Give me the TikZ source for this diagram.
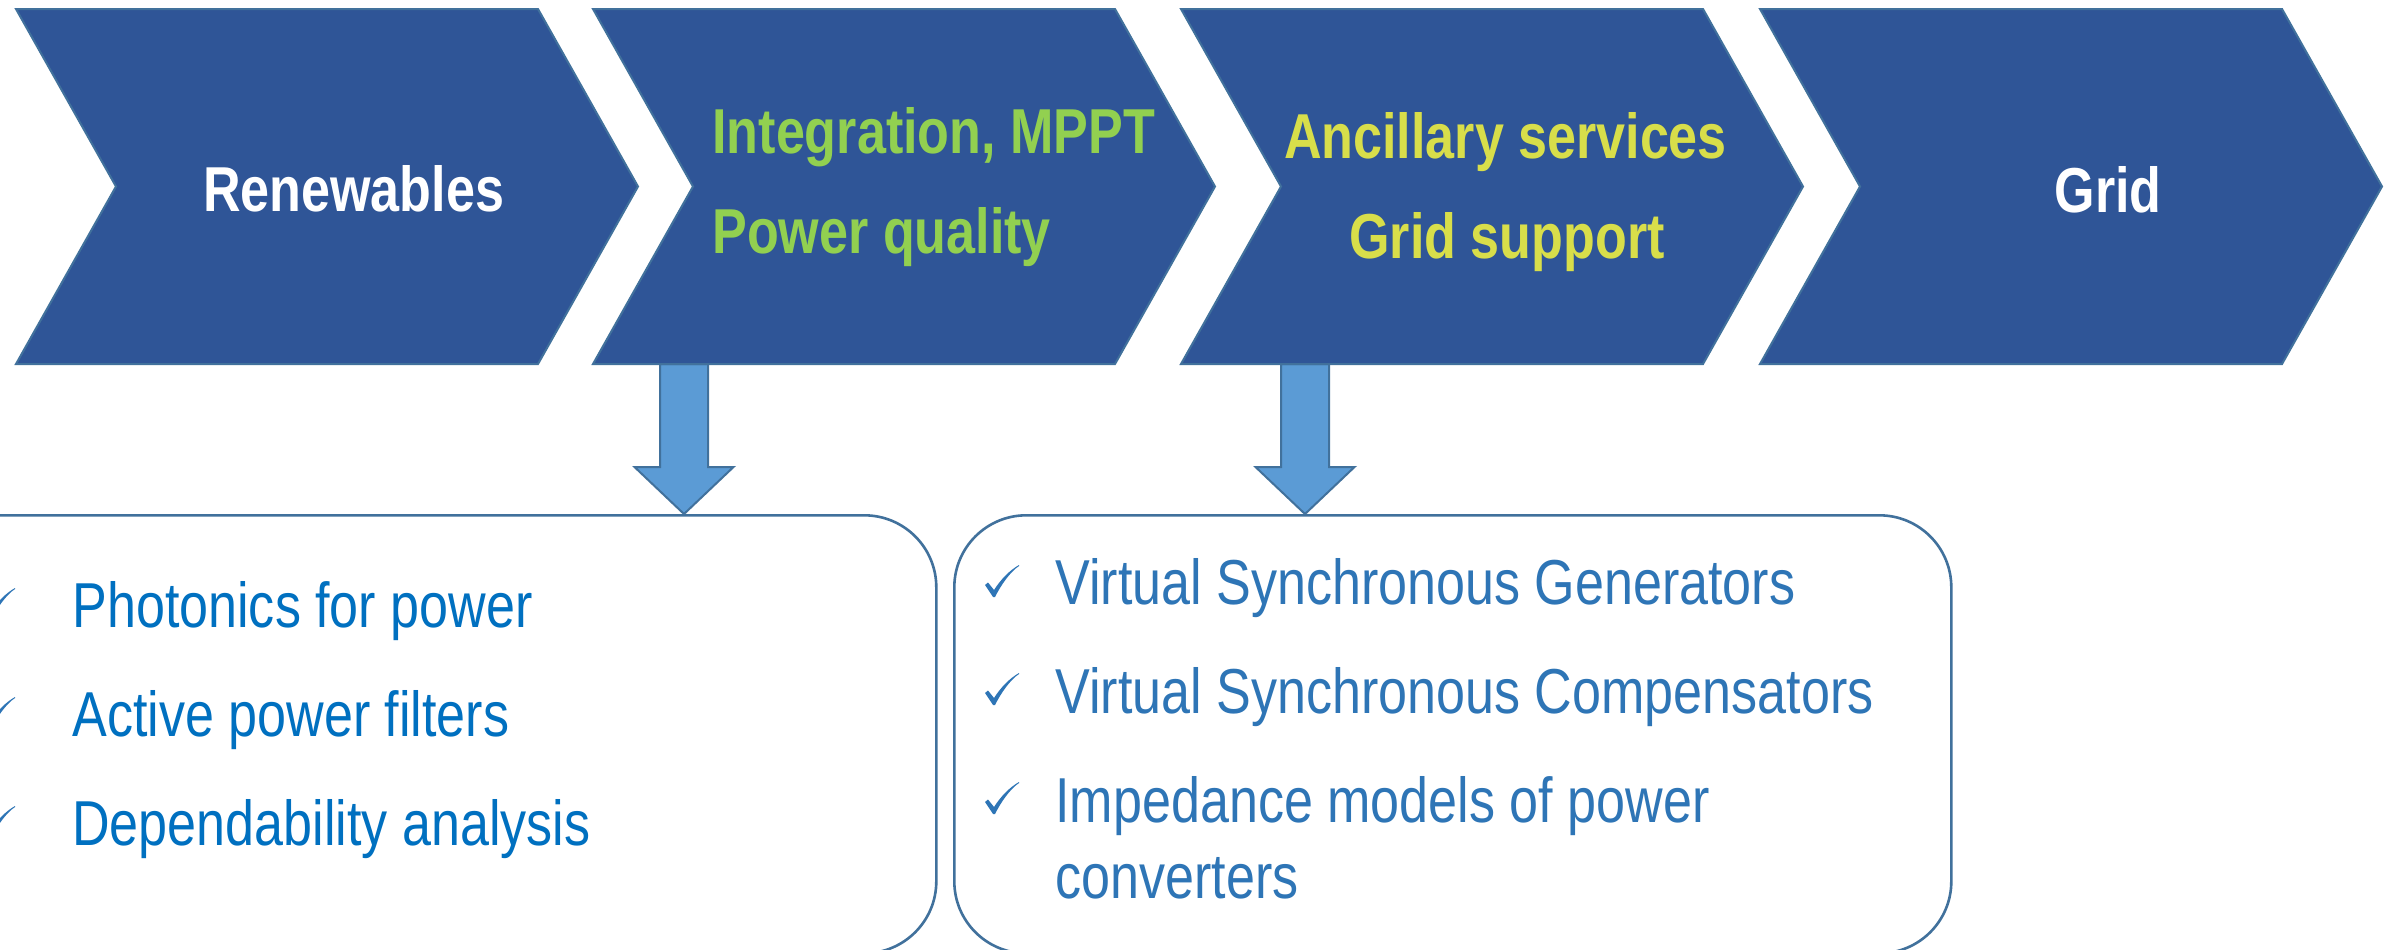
\documentclass[tikz,border=0pt]{standalone}
\usepackage{fontspec}
\newfontfamily\narrowsans[FakeStretch=0.82]{Liberation Sans}
\usetikzlibrary{calc}

\definecolor{chevfill}{HTML}{2F5597}
\definecolor{edgeblue}{HTML}{41719C}
\definecolor{arrfill}{HTML}{5B9BD5}
\definecolor{pqgreen}{HTML}{92D050}
\definecolor{ancyellow}{RGB}{216,222,74}
\definecolor{itemblue}{HTML}{0070C0}
\definecolor{itemblueb}{HTML}{2E75B6}

% chevron outline with its left edge at x = #1
\newcommand\chevronat[1]{(#1,9) -- ++(522,0) -- ++(100,177.5) -- ++(-100,177.5) -- ++(-522,0) -- ++(100,-177.5) -- cycle}
% wide block arrow from coordinate #1 (top of shaft) down to tip #2
\newcommand\blockarrow[2]{%
  \draw[barrow] ($(#1)+(-24,0)$) -- ($(#2)+(-24,-47)$) -- ($(#2)+(-49.5,-47)$)
    -- (#2) -- ($(#2)+(49.5,-47)$) -- ($(#2)+(24,-47)$) -- ($(#1)+(24,0)$) -- cycle;}

\begin{document}
\begin{tikzpicture}[x=0.5pt,y=-0.5pt,
  chevron/.style={fill=chevfill,draw=edgeblue,line width=1pt},
  barrow/.style={fill=arrfill,draw=edgeblue,line width=1pt,line join=miter},
  itembox/.style={draw=edgeblue,line width=1.3pt,fill=white,rounded corners=36pt,
    inner sep=0pt,anchor=north west},
  headtext/.style={font=\narrowsans\bfseries\fontsize{31.75}{38}\selectfont,inner sep=0pt},
  itemtext/.style={font=\narrowsans\fontsize{31.75}{38}\selectfont,inner sep=0pt,anchor=base west},
  chk/.pic={\fill (0,20) -- (3,17.5) -- (9,25) .. controls (16,14) and (25,5) .. (34,0)
      -- (34,1) .. controls (25,7) and (16,20) .. (10,32) -- (8,32) -- cycle;}]
\useasboundingbox (0,0) rectangle (2392,949);
\clip (0,0) rectangle (2392,949);
\fill[white] (0,0) rectangle (2392,949);

% lower boxes with the topics
\node[itembox,minimum width=517.5pt,minimum height=219pt] (box1) at (-100,514) {};
\node[itembox,minimum width=498.5pt,minimum height=219pt] (box2) at (953,514) {};

% feet of the chevrons where the block arrows start
\coordinate (ch2-foot) at (684,364);
\coordinate (ch3-foot) at (1305,364);
\coordinate (tip1) at (ch2-foot |- box1.north);
\coordinate (tip2) at (ch3-foot |- box2.north);
\blockarrow{ch2-foot}{tip1}
\blockarrow{ch3-foot}{tip2}

% process chevrons
\path[chevron] \chevronat{16};
\path[chevron] \chevronat{593};
\path[chevron] \chevronat{1181};
\path[chevron] \chevronat{1760};

\node[headtext,white,anchor=base] (renew) at (353.5,211) {Renewables};
\node[headtext,pqgreen,anchor=base west] (integ) at (712,153) {Integration, MPPT};
\node[headtext,pqgreen,anchor=base west] (pq) at (712,253) {Power quality};
\node[headtext,ancyellow,anchor=base] (anc) at (1505.5,158) {Ancillary services};
\node[headtext,ancyellow,anchor=base] (gsup) at (1507,258) {Grid support};
\node[headtext,white,anchor=base] (grid) at (2108,212) {Grid};

% first topic list
\pic[color=itemblueb] at (-19,588) {chk};
\pic[color=itemblueb] at (-19,697) {chk};
\pic[color=itemblueb] at (-19,806) {chk};
\node[itemtext,itemblue] (photo) at (72,627) {Photonics for power};
\node[itemtext,itemblue] (apf) at (72,736) {Active power filters};
\node[itemtext,itemblue] (dep) at (72,845) {Dependability analysis};

% second topic list
\pic[color=itemblueb] at (985,565) {chk};
\pic[color=itemblueb] at (985,673) {chk};
\pic[color=itemblueb] at (985,782) {chk};
\node[itemtext,itemblueb] (vsg) at (1055,604) {Virtual Synchronous Generators};
\node[itemtext,itemblueb] (vsc) at (1055,713) {Virtual Synchronous Compensators};
\node[itemtext,itemblueb] (imp) at (1055,822) {Impedance models of power};
\node[itemtext,itemblueb] (conv) at (1055,898) {converters};
\end{tikzpicture}
\end{document}
